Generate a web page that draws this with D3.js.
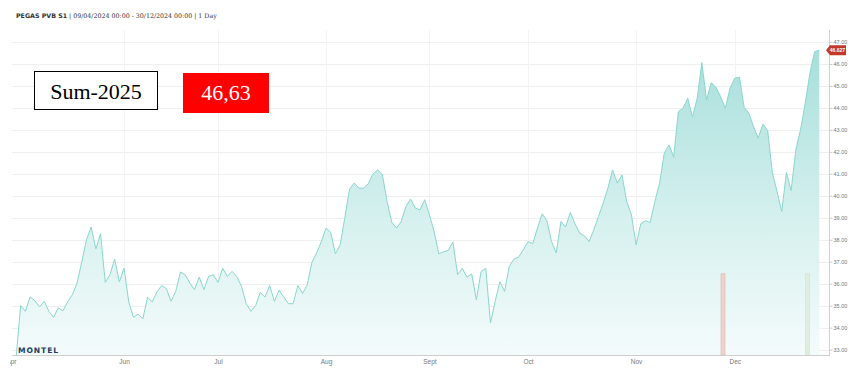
<!DOCTYPE html>
<html><head><meta charset="utf-8">
<script src="https://cdn.jsdelivr.net/npm/d3@7"></script>
<style>html,body{margin:0;padding:0;background:#fff;}svg{display:block;}</style>
</head><body>
<svg id="chart" width="854" height="372"></svg>
<script>
// ---- data (one value per trading day, starting at the first visible session) ----
const values = [
32.6,35.0,34.74,35.4,35.23,34.94,35.2,34.74,34.47,34.9,
34.77,35.17,35.5,36.03,37.0,38.0,38.58,37.59,38.27,36.06,
36.41,37.12,36.08,36.71,35.17,34.47,34.62,34.4,35.38,35.17,
35.62,35.92,35.77,35.2,35.65,36.53,36.41,36.03,35.73,36.3,
35.73,36.33,36.41,36.06,36.7,36.33,36.56,36.33,35.88,35.09,
34.74,35.0,35.6,35.39,35.92,35.2,35.7,35.39,35.09,35.09,
35.92,35.55,35.95,36.97,37.4,37.92,38.53,38.33,37.36,37.77,
39.0,40.3,40.58,40.35,40.35,40.55,41.0,41.18,40.95,39.74,
38.79,38.53,38.83,39.51,39.85,39.44,39.36,39.82,39.14,38.38,
37.36,37.45,37.51,37.9,36.41,36.7,36.3,36.45,35.27,36.55,
36.7,34.21,35.2,36.09,35.65,36.79,37.12,37.21,37.55,37.92,
37.82,38.53,39.18,38.88,37.92,37.4,38.83,38.58,39.24,38.73,
38.3,38.18,37.92,38.45,39.06,39.67,40.35,41.18,40.58,40.95,
39.74,39.14,37.77,38.73,38.86,38.79,39.74,40.58,41.94,42.32,
41.76,43.83,43.99,44.44,43.58,44.44,46.06,44.36,45.15,44.94,
44.51,43.99,44.9,45.35,45.4,44.03,43.76,43.15,42.62,43.26,
42.97,41.06,40.2,39.29,41.06,40.24,42.09,43.0,44.21,45.58,
46.56,46.627
];
const monthLabels = ["Apr","Jun","Jul","Aug","Sept","Oct","Nov","Dec"];
const monthIndex  = [0, 23, 43, 66, 88, 109, 132, 153];
const yTicks = [33,34,35,36,37,38,39,40,41,42,43,44,45,46,47];
const markerIndex = [150.5, 168.5];
const markerTop   = [36.45, 36.45];
const markerColor = ["#ecd3cd", "#dfeedd"];
const markerEdge  = ["#dcb6ad", "#cfe3cc"];
const lastLabel = "46.627";
const titleBold = "PEGAS PVB S1";
const titleRest = " | 09/04/2024 00:00 - 30/12/2024 00:00 | 1 Day";
const boxLabel = "Sum-2025";
const boxValue = "46,63";

// ---- layout ----
const svg = d3.select("#chart");
const pL = 12, pR = 829, pT = 30, pB = 355;
const x = d3.scaleLinear().domain([0, values.length - 1]).range([16, 819.3]);
const y = d3.scaleLinear().domain([33, 47]).range([349.6, 42]);

const defs = svg.append("defs");
const grad = defs.append("linearGradient").attr("id","fillGrad")
  .attr("gradientUnits","userSpaceOnUse").attr("x1",0).attr("y1",42).attr("x2",0).attr("y2",pB);
grad.append("stop").attr("offset","0%").attr("stop-color","#a5deda");
grad.append("stop").attr("offset","55%").attr("stop-color","#d4f0ee");
grad.append("stop").attr("offset","100%").attr("stop-color","#f4fbfb");
defs.append("clipPath").attr("id","plotClip").append("rect")
  .attr("x",pL).attr("y",pT).attr("width",pR-pL).attr("height",pB-pT);
defs.append("clipPath").attr("id","axClip").append("rect")
  .attr("x",10).attr("y",pB).attr("width",830).attr("height",20);

// title
const title = svg.append("text").attr("x",16).attr("y",18)
  .attr("font-family","'DejaVu Serif', serif").attr("font-size",6.3).attr("fill","#333");
title.append("tspan").attr("font-weight","bold").attr("font-family","'DejaVu Sans', sans-serif").text(titleBold);
title.append("tspan").text(titleRest);

// horizontal grid
svg.append("g").selectAll("line").data(yTicks).join("line")
  .attr("x1",pL).attr("x2",pR).attr("y1",d=>Math.round(y(d))+0.5).attr("y2",d=>Math.round(y(d))+0.5)
  .attr("stroke","#efefef").attr("stroke-width",1);
// vertical grid
svg.append("g").selectAll("line").data(monthIndex.slice(1)).join("line")
  .attr("x1",d=>Math.round(x(d))+0.5).attr("x2",d=>Math.round(x(d))+0.5).attr("y1",pT).attr("y2",pB)
  .attr("stroke","#f3f3f3").attr("stroke-width",1);

// area + line
const g = svg.append("g").attr("clip-path","url(#plotClip)");
g.append("path").datum(values)
  .attr("d", d3.area().x((d,i)=>x(i)).y0(pB).y1(d=>y(d)))
  .attr("fill","url(#fillGrad)");
g.append("path").datum(values)
  .attr("d", d3.line().x((d,i)=>x(i)).y(d=>y(d)))
  .attr("fill","none").attr("stroke","#8ad6ce").attr("stroke-width",1);

// marker bars
svg.append("g").selectAll("rect").data(markerIndex).join("rect")
  .attr("x",d=>x(d)-2).attr("width",4)
  .attr("y",(d,i)=>y(markerTop[i])).attr("height",(d,i)=>pB - y(markerTop[i]))
  .attr("fill",(d,i)=>markerColor[i]).attr("stroke",(d,i)=>markerEdge[i]).attr("stroke-width",0.6);

// axes lines
svg.append("line").attr("x1",pL).attr("x2",pR).attr("y1",pB+0.5).attr("y2",pB+0.5)
  .attr("stroke","#cfcfcf");
svg.append("line").attr("x1",pR+0.5).attr("x2",pR+0.5).attr("y1",pT).attr("y2",pB+1)
  .attr("stroke","#cfcfcf");

// right axis
const ra = svg.append("g").attr("transform",`translate(${pR+0.5},0)`)
  .call(d3.axisRight(y).tickValues(yTicks).tickSize(3).tickFormat(d3.format(".2f")));
ra.select(".domain").remove();
ra.selectAll("line").attr("stroke","#cfcfcf");
ra.selectAll("text").attr("font-family","'Liberation Sans', Arial, sans-serif")
  .attr("font-size",5.5).attr("fill","#777").attr("x",4);

// bottom axis labels
const ba = svg.append("g").attr("clip-path","url(#axClip)").append("g")
  .attr("transform",`translate(0,${pB})`)
  .call(d3.axisBottom(x).tickValues(monthIndex).tickSize(0)
    .tickFormat((d,i)=>monthLabels[i]));
ba.select(".domain").remove();
ba.selectAll("text").attr("font-family","'Liberation Sans', Arial, sans-serif")
  .attr("font-size",6.5).attr("fill","#777").attr("dy","0.9em");
ba.selectAll(".tick").filter((d,i)=>i===0).select("text").attr("text-anchor","end").attr("x",0);

// last value tag
const ly = y(values[values.length-1]);
svg.append("path")
  .attr("d",`M${pR-3},${ly} L${pR+1},${ly-5} L${pR+17},${ly-5} L${pR+17},${ly+5} L${pR+1},${ly+5} Z`)
  .attr("fill","#c0392b");
svg.append("text").attr("x",pR+8.5).attr("y",ly+2).attr("text-anchor","middle")
  .attr("font-family","'Liberation Sans', Arial, sans-serif").attr("font-size",5).attr("font-weight","bold")
  .attr("fill","#fff").text(lastLabel);

// logo
svg.append("text").attr("x",18).attr("y",353)
  .attr("font-family","'DejaVu Sans', sans-serif").attr("font-weight","bold").attr("font-size",7.6)
  .attr("letter-spacing",0.9).attr("fill","#1d3d63").text("MONTEL");

// annotation boxes
svg.append("rect").attr("x",34.5).attr("y",71.5).attr("width",123).attr("height",38)
  .attr("fill","#fff").attr("stroke","#000").attr("stroke-width",1);
svg.append("text").attr("x",96).attr("y",99).attr("text-anchor","middle")
  .attr("font-family","'Liberation Serif', 'DejaVu Serif', serif").attr("font-size",22)
  .attr("fill","#000").text(boxLabel);
svg.append("rect").attr("x",183).attr("y",73).attr("width",86).attr("height",40).attr("fill","#ff0000");
svg.append("text").attr("x",226).attr("y",100).attr("text-anchor","middle")
  .attr("font-family","'Liberation Serif', 'DejaVu Serif', serif").attr("font-size",22)
  .attr("fill","#fff").text(boxValue);
</script>
</body></html>
